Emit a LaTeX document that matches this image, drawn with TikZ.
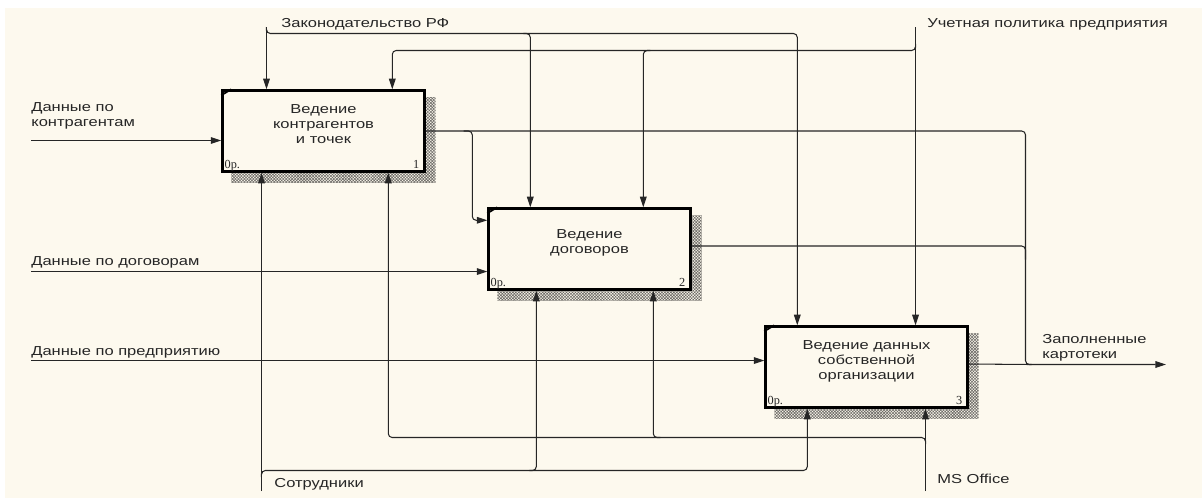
\documentclass[tikz,border=0pt]{standalone}
\usepackage{fontspec}
\setmainfont{Liberation Sans}[FakeStretch=1.27]
\newfontfamily\numfont{Liberation Serif}
\usetikzlibrary{arrows.meta,calc,patterns.meta,backgrounds}
\definecolor{cPaper}{HTML}{FDF9EE}
\definecolor{cShade}{HTML}{6E6C68}
\definecolor{cInk}{HTML}{262626}

\begin{document}
\begin{tikzpicture}[
    x=0.02cm, y=-0.02cm,
    font=\fontsize{7.4}{8.5}\selectfont, text=cInk,
    func/.style={rectangle, draw=black, line width=1.4pt, fill=cPaper, minimum width=4.04cm, minimum height=1.62cm, inner sep=0pt},
    ftext/.style={align=center, inner sep=0pt},
    lbl/.style={anchor=west, align=left, inner sep=0pt},
    tag/.style={inner sep=0pt, font=\numfont\fontsize{7}{7}\selectfont},
    line/.style={line width=0.6pt, draw=cInk},
    arr/.style={line, -{Triangle[length=6pt, width=3.8pt]}},
    rc/.style={rounded corners=2.2pt}
]
\useasboundingbox (0,0) rectangle (1202,498);

% functions
\node[func] (b1) at (323.5,131) {};
\node[func] (b2) at (589.5,249) {};
\node[func] (b3) at (866.5,367) {};
\node[ftext] (b1t) at ($(b1)+(0,-7)$) {Ведение\\контрагентов\\и точек};
\node[ftext] (b2t) at ($(b2)+(0,-6.5)$) {Ведение\\договоров};
\node[ftext] (b3t) at ($(b3)+(0,-5.5)$) {Ведение данных\\собственной\\организации};

\foreach \b/\n in {b1/1,b2/2,b3/3} {
  \draw[line width=1pt] ($(\b.north west)+(0,6)$) -- ($(\b.north west)+(10,0)$);
  \node[tag, anchor=base west] (\b-p) at ($(\b.south west)+(3,-4)$) {0р.};
  \node[tag, anchor=base east] (\b-n) at ($(\b.south east)+(-6,-4)$) {\n};
}

\begin{scope}[on background layer]
  \fill[cPaper] (5,8) rectangle (1202,498);
  \foreach \b in {b1,b2,b3}
    \fill[pattern={Hatch[angle=45, distance=1.2pt, line width=0.35pt]}, pattern color=cShade]
      ($(\b.north west)+(10,8)$) rectangle ($(\b.south east)+(10,10)$);
\end{scope}

% ends of the arrows
\coordinate (zak) at (266.5,27);
\coordinate (zakJ) at (266.5,33.5);
\coordinate (uch) at (915.5,27);
\coordinate (uchJ) at (915.5,50.5);
\coordinate (sot) at (261.5,491);
\coordinate (sotJ) at (261.5,470.5);
\coordinate (mso) at (925.5,491);
\coordinate (msoJ) at (925.5,437.5);
\coordinate (in1) at (31,140.5);
\coordinate (in2) at (31,271.5);
\coordinate (in3) at (31,360.5);
\coordinate (out) at (1166,364.5);
\coordinate (outJ) at (1025.5,364.5);

% controls
\draw[arr] (zak) -- (zak |- b1.north);
\draw[arr, rc] ($(zakJ)+(0,-3)$) -- (zakJ) -| ($(b2.north west)+(43,0)$);
\draw[arr, rc] ($(zakJ -| b2.north west)+(36,0)$) -| ($(b3.north west)+(33,0)$);
\draw[arr] (uch) -- (uch |- b3.north);
\draw[arr, rc] ($(uchJ)+(0,-3)$) -- (uchJ) -| ($(b2.north west)+(156,0)$);
\draw[arr, rc] ($(uchJ -| b2.north west)+(163,0)$) -| ($(b1.north west)+(171,0)$);

% mechanisms
\draw[arr] (sot) -- (sot |- b1.south);
\draw[arr, rc] ($(sotJ)+(0,3)$) -- (sotJ) -| ($(b2.south west)+(49,0)$);
\draw[arr, rc] ($(sotJ -| b2.south west)+(42,0)$) -| ($(b3.south west)+(43,0)$);
\draw[arr] (mso) -- (mso |- b3.south);
\draw[arr, rc] ($(msoJ)+(0,3)$) -- (msoJ) -| ($(b2.south west)+(166,0)$);
\draw[arr, rc] ($(msoJ -| b2.south west)+(173,0)$) -| ($(b1.south west)+(167,0)$);

% inputs
\draw[arr] (in1) -- (in1 -| b1.west);
\draw[arr] (in2) -- (in2 -| b2.west);
\draw[arr] (in3) -- (in3 -| b3.west);
\draw[arr, rc] ($(b1.east)+(38,0)$) -| ($(b2.north west)+(-15,13)$) -- ($(b2.north west)+(0,13)$);

% outputs
\draw[arr, rc] (b1.east) -| (outJ) -- (out);
\draw[line, rc] ($(b2.east)+(0,-3)$) -| ($(outJ)+(0,-105)$);
\draw[line] ($(b3.east)+(0,-3)$) -- ($(outJ)+(6,0)$);

% labels
\node[lbl] (lZak) at (281,24) {Законодательство РФ};
\node[lbl] (lUch) at (927,24) {Учетная политика предприятия};
\node[lbl] (lIn1) at (31,116) {Данные по\\контрагентам};
\node[lbl] (lIn2) at (31,262) {Данные по договорам};
\node[lbl] (lIn3) at (31,352) {Данные по предприятию};
\node[lbl] (lSot) at (274,484) {Сотрудники};
\node[lbl] (lMso) at (937,479) {MS Office};
\node[lbl] (lOut) at (1042,347.5) {Заполненные\\картотеки};
\end{tikzpicture}
\end{document}
